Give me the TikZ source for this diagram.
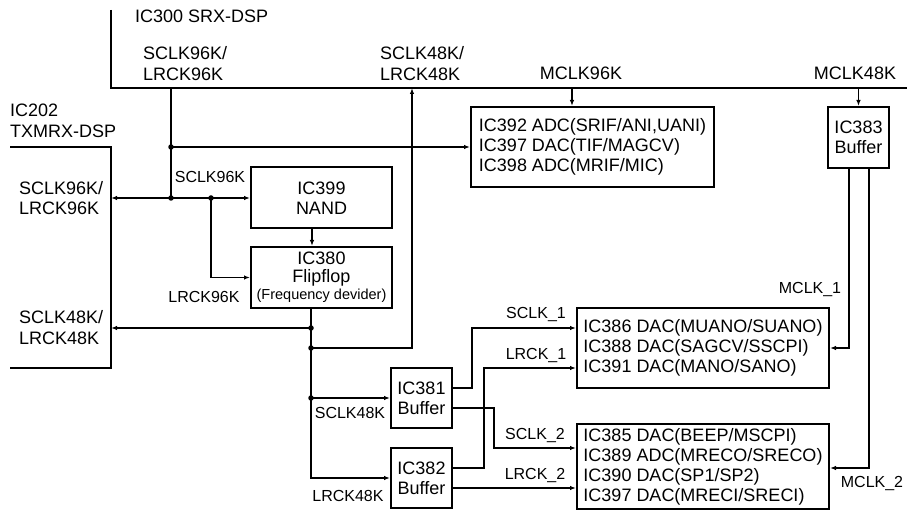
\documentclass[tikz,border=0pt]{standalone}
\usepackage{fontspec}
\setmainfont{Liberation Sans}
\usetikzlibrary{arrows.meta}
\begin{document}
\begin{tikzpicture}[x=1pt,y=-1pt,
  box/.style={draw, line width=2pt, inner sep=0pt, align=center, font=\fontsize{18}{20}\selectfont},
  wire/.style={line width=1.4pt},
  arr/.style={wire, -{Latex[length=6pt,width=4.5pt]}},
  lbl/.style={font=\fontsize{16}{18}\selectfont, inner sep=0pt},
  biglbl/.style={font=\fontsize{18}{20.5}\selectfont, inner sep=0pt, align=left},
  jdot/.style={circle, fill, inner sep=0pt, minimum size=5.5pt}]
\useasboundingbox (0,0) rectangle (907,510);

% IC300 bus and IC202 outline
\coordinate (busTop) at (111,10);
\coordinate (busL) at (111,88);
\coordinate (busR) at (907,88);
\draw[line width=2pt] (busTop) -- (busL) -- (busR);
\coordinate (c202a) at (10,147);
\coordinate (c202b) at (111,147);
\coordinate (c202c) at (111,368);
\coordinate (c202d) at (10,368);
\draw[line width=2pt] (c202a) -- (c202b) -- (c202c) -- (c202d);

% boxes
\node[box, minimum width=141pt, minimum height=61pt] (ic399) at (321.5,198) {IC399\\NAND};
\node[box, minimum width=141pt, minimum height=61pt, font=\fontsize{18}{17.5}\selectfont] (ic380) at (321.5,277.5)
  {IC380\\Flipflop\\{\fontsize{14.5}{17}\selectfont(Frequency devider)}};
\node[box, minimum width=243pt, minimum height=80pt, align=left] (ic392) at (592.5,147)
  {IC392 ADC(SRIF/ANI,UANI)\\IC397 DAC(TIF/MAGCV)\\IC398 ADC(MRIF/MIC)};
\node[box, minimum width=61pt, minimum height=61pt] (ic383) at (858.5,137.5) {IC383\\Buffer};
\node[box, minimum width=61pt, minimum height=60pt] (ic381) at (421.5,398) {IC381\\Buffer};
\node[box, minimum width=61pt, minimum height=60pt] (ic382) at (421.5,478) {IC382\\Buffer};
\node[box, minimum width=252pt, minimum height=80pt, align=left] (dac1) at (703,348)
  {IC386 DAC(MUANO/SUANO)\\IC388 DAC(SAGCV/SSCPI)\\IC391 DAC(MANO/SANO)};
\node[box, minimum width=252pt, minimum height=85pt, align=left] (dac2) at (703,466.5)
  {IC385 DAC(BEEP/MSCPI)\\IC389 ADC(MRECO/SRECO)\\IC390 DAC(SP1/SP2)\\IC397 DAC(MRECI/SRECI)};

% junction coordinates
\coordinate (b96) at (171,88);
\coordinate (j96a) at (171,147);
\coordinate (j96b) at (171,198);
\coordinate (j96c) at (211,198);
\coordinate (in96) at (111,198);
\coordinate (nx) at (312,0);
\coordinate (j48a) at (311,328);
\coordinate (j48b) at (311,348);
\coordinate (j48c) at (311,398);
\coordinate (in48) at (111,328);
\coordinate (up48) at (412,88);
\coordinate (m96) at ([xshift=-20.5pt]ic392.north);

% connectors 96K
\draw[wire] (b96) -- (j96b);
\draw[arr] (j96a) -- (ic392.west);
\draw[arr] (j96b) -- (in96);
\draw[arr] (j96b) -- (ic399.west);
\draw[arr] (j96c) |- (ic380.west);
\draw[arr] (ic399.south -| nx) -- (ic380.north -| nx);

% connectors 48K
\draw[wire] (ic380.south -| j48a) -- (j48a);
\draw[arr] (j48a) |- (ic382.west);
\draw[arr] (j48a) -- (in48);
\draw[arr] (j48b) -| (up48);
\draw[arr] (j48c) -- (ic381.west);

% buffers to DACs
\draw[arr] ([yshift=10pt]ic381.east) -- ++(19,0) |- ([yshift=20pt]dac1.west);
\draw[arr] ([yshift=10pt]ic382.east) -- ++(31,0) |- ([yshift=-20pt]dac1.west);
\draw[arr] ([yshift=-10pt]ic381.east) -- ++(41,0) |- ([yshift=18.5pt]dac2.west);
\draw[arr] ([yshift=-10pt]ic382.east) -- ([yshift=-10pt]ic382.east -| dac2.west);

% MCLK
\draw[arr] (m96 |- busL) -- (m96);
\draw[arr] (ic383.north |- busL) -- (ic383.north);
\draw[arr] ([xshift=-9.5pt]ic383.south) |- (dac1.east);
\draw[arr] ([xshift=10.5pt]ic383.south) |- ([yshift=-1.5pt]dac2.east);

% dots
\foreach \p in {j96a,j96b,j96c,j48a,j48b,j48c} \node[jdot] at (\p) {};

% labels
\node[biglbl, anchor=west] (t300) at (135,16) {IC300 SRX-DSP};
\node[biglbl, anchor=west] (t96top) at (143,63.5) {SCLK96K/\\LRCK96K};
\node[biglbl, anchor=west] (t48top) at (380,63.5) {SCLK48K/\\LRCK48K};
\node[biglbl] (tm96) at (581,73) {MCLK96K};
\node[biglbl] (tm48) at (855,73) {MCLK48K};
\node[biglbl, anchor=west] (t202) at (10,121) {IC202\\TXMRX-DSP};
\node[biglbl, anchor=west] (t96l) at (19,198) {SCLK96K/\\LRCK96K};
\node[biglbl, anchor=west] (t48l) at (19,327.5) {SCLK48K/\\LRCK48K};
\node[lbl] (ts96) at (210,177) {SCLK96K};
\node[lbl] (tl96) at (204,297) {LRCK96K};
\node[lbl] (ts48) at (350,413) {SCLK48K};
\node[lbl] (tl48) at (348,496) {LRCK48K};
\node[lbl] (ts1) at (536,315) {SCLK\_1};
\node[lbl] (tl1) at (536,356) {LRCK\_1};
\node[lbl] (ts2) at (535,436) {SCLK\_2};
\node[lbl] (tl2) at (535,476) {LRCK\_2};
\node[lbl] (tmc1) at (810,290) {MCLK\_1};
\node[lbl] (tmc2) at (872,484) {MCLK\_2};
\end{tikzpicture}
\end{document}
